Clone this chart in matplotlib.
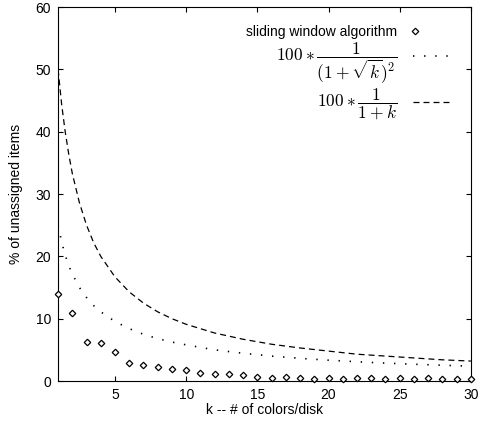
import matplotlib
matplotlib.use("Agg")
import matplotlib.pyplot as plt
from matplotlib.legend_handler import HandlerLine2D

# sliding window algorithm results, k = 1..30
k_points = list(range(1, 31))
unassigned = [14.0, 10.9, 6.2, 6.1, 4.65, 2.9, 2.5, 2.3, 2.0, 1.8,
              1.3, 1.1, 1.1, 0.9, 0.7, 0.55, 0.65, 0.55, 0.4, 0.55,
              0.4, 0.45, 0.45, 0.4, 0.45, 0.3, 0.55, 0.3, 0.3, 0.4]

# reference curves, read at these k values
k_curve = [1, 1.25, 1.5, 1.75, 2, 2.5, 3, 3.5, 4, 5, 6, 7, 8, 9, 10,
           12, 14, 16, 18, 20, 22, 24, 26, 28, 30]
bound_sqrt = [25.0, 22.3, 20.2, 18.5, 17.2, 15.0, 13.4, 12.1, 11.1, 9.55,
              8.4, 7.5, 6.8, 6.25, 5.8, 5.0, 4.45, 4.0, 3.64, 3.34,
              3.09, 2.87, 2.69, 2.53, 2.38]
bound_lin = [50.0, 44.4, 40.0, 36.4, 33.3, 28.6, 25.0, 22.2, 20.0, 16.7,
             14.3, 12.5, 11.1, 10.0, 9.1, 7.7, 6.7, 5.9, 5.3, 4.8,
             4.3, 4.0, 3.7, 3.4, 3.2]

xticks = [5, 10, 15, 20, 25, 30]
yticks = [0, 10, 20, 30, 40, 50, 60]


class LeftMarker(HandlerLine2D):
    # gnuplot puts the point at the start of the key sample
    def get_xdata(self, legend, xdescent, ydescent, width, height, fontsize):
        x = -xdescent + 0.05 * width
        return [x, x], [x]


plt.rcParams["font.family"] = ["Liberation Sans", "DejaVu Sans"]
plt.rcParams["mathtext.fontset"] = "cm"
plt.rcParams["lines.scale_dashes"] = False

fig = plt.figure(figsize=(4.8, 4.21), dpi=100)
ax = fig.add_axes([0.121, 0.095, 0.860, 0.888])

pts, = ax.plot(k_points, unassigned, linestyle="none", marker="D", markersize=3.3,
               markerfacecolor="white", markeredgecolor="black", markeredgewidth=0.9,
               clip_on=False, zorder=3, label="sliding window algorithm")
ax.plot(k_curve, bound_sqrt, color="black", linewidth=1.2, dashes=(1.0, 7.0),
        label=r"$100 \ast \dfrac{1}{(1+\sqrt{k})^2}$")
ax.plot(k_curve, bound_lin, color="black", linewidth=0.9, dashes=(4.3, 2.9),
        label=r"$100 \ast \dfrac{1}{1+k}$")

ax.set_xlim(1, 30)
ax.set_ylim(0, 60)
ax.set_xticks(xticks)
ax.set_yticks(yticks)
ax.tick_params(direction="in", length=3.5, width=0.8, top=True, right=True,
               labelsize=10, pad=5)
for s in ax.spines.values():
    s.set_linewidth(0.8)

ax.set_xlabel("k -- # of colors/disk", fontsize=10, labelpad=1)
ax.set_ylabel("% of unassigned items", fontsize=10, labelpad=9)

leg = ax.legend(loc="upper right", frameon=False, markerfirst=False, numpoints=1,
                fontsize=10, handlelength=2.7, handletextpad=1.2, labelspacing=0.12,
                borderaxespad=0.6, bbox_to_anchor=(0.985, 0.99),
                handler_map={pts: LeftMarker()})
for t in leg.get_texts()[1:]:
    t.set_fontsize(12.5)

fig.savefig("out.png", dpi=100)
